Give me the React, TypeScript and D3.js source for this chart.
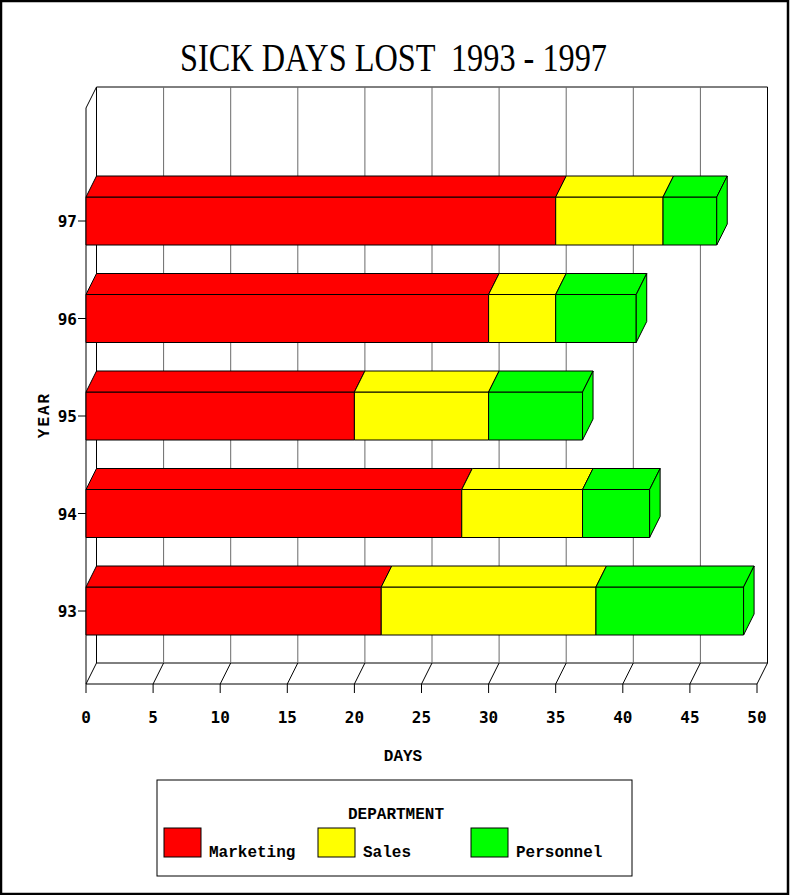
import React from "react";
import * as d3 from "d3";

const years = ["93", "94", "95", "96", "97"];
const marketing = [22, 28, 20, 30, 35];
const sales = [16, 9, 10, 5, 8];
const personnel = [11, 5, 7, 6, 4];
const departments = ["Marketing", "Sales", "Personnel"];
const colors = ["#ff0000", "#ffff00", "#00ff00"];
const xTicks = [0, 5, 10, 15, 20, 25, 30, 35, 40, 45, 50];

const W = 790;
const H = 895;
const DX = 10.5;
const DY = -21;
const BAR_H = 48;

export default function App() {
  const x = d3.scaleLinear().domain([0, 50]).range([86, 757]);
  const y = d3.scalePoint<string>().domain(years).range([611, 221]);
  const rows = years.map((yr, i) => ({
    year: yr,
    Marketing: marketing[i],
    Sales: sales[i],
    Personnel: personnel[i],
  }));
  const stacked = d3.stack<any>().keys(departments)(rows);
  const frontTop = 108;
  const frontBottom = 684;
  const x0 = x(0);
  const x1 = x(50);
  const mono = "'Liberation Mono', 'Courier New', monospace";
  const sansMono = "'DejaVu Sans Mono', monospace";

  return (
    <svg
      width={W}
      height={H}
      style={{ position: "absolute", left: 0, top: 0, background: "#fff" }}
    >
      <rect x={1} y={1} width={787} height={893} fill="#fff" stroke="#000" strokeWidth={2.5} />
      <text
        x={393.5}
        y={71}
        textAnchor="middle"
        fontFamily="'Liberation Serif', 'Times New Roman', serif"
        fontSize={40}
        textLength={427}
        lengthAdjust="spacingAndGlyphs"
        style={{ whiteSpace: "pre" }}
      >
        {"SICK DAYS LOST  1993 - 1997"}
      </text>

      {/* back wall */}
      <g stroke="#000" strokeWidth={1} fill="none">
        <line x1={x0 + DX} y1={frontTop + DY} x2={x1 + DX} y2={frontTop + DY} />
        <line x1={x0 + DX} y1={frontTop + DY} x2={x0 + DX} y2={frontBottom + DY} />
        <line x1={x1 + DX} y1={frontTop + DY} x2={x1 + DX} y2={frontBottom + DY} />
        <line x1={x0} y1={frontTop} x2={x0 + DX} y2={frontTop + DY} />
        <line x1={x0} y1={frontTop} x2={x0} y2={frontBottom} />
        <line x1={x0} y1={frontBottom} x2={x1} y2={frontBottom} />
        <line x1={x0 + DX} y1={frontBottom + DY} x2={x1 + DX} y2={frontBottom + DY} />
      </g>
      {/* grid lines */}
      <g stroke="#6a6a6a" strokeWidth={1}>
        {xTicks.slice(1, -1).map((t) => (
          <line key={t} x1={x(t) + DX} y1={frontTop + DY} x2={x(t) + DX} y2={frontBottom + DY} />
        ))}
      </g>
      {/* floor diagonals and ticks */}
      <g stroke="#000" strokeWidth={1}>
        {xTicks.map((t) => (
          <g key={t}>
            <line x1={x(t)} y1={frontBottom} x2={x(t) + DX} y2={frontBottom + DY} />
            <line x1={x(t)} y1={frontBottom} x2={x(t)} y2={frontBottom + 9} />
          </g>
        ))}
      </g>
      {xTicks.map((t) => (
        <text key={t} x={x(t)} y={723} textAnchor="middle" fontFamily={sansMono} fontWeight="bold" fontSize={16}>
          {t}
        </text>
      ))}
      <text x={403} y={761} textAnchor="middle" fontFamily={mono} fontWeight="bold" fontSize={16}>
        DAYS
      </text>

      {/* y ticks */}
      {years.map((yr) => (
        <g key={yr}>
          <line x1={x0 - 8} y1={y(yr)} x2={x0} y2={y(yr)} stroke="#000" />
          <text x={77} y={(y(yr) as number) + 6} textAnchor="end" fontFamily={sansMono} fontWeight="bold" fontSize={16}>
            {yr}
          </text>
        </g>
      ))}
      <text
        transform={`translate(49,415) rotate(-90)`}
        textAnchor="middle"
        fontFamily={mono}
        fontWeight="bold"
        fontSize={16}
        letterSpacing={2}
      >
        YEAR
      </text>

      {/* bars */}
      {years.map((yr, i) => {
        const cy = y(yr) as number;
        const top = cy - BAR_H / 2;
        const bottom = cy + BAR_H / 2;
        return (
          <g key={yr} stroke="#000" strokeWidth={1} strokeLinejoin="round">
            {stacked.map((s, k) => {
              const a = x(s[i][0]);
              const b = x(s[i][1]);
              return (
                <g key={k}>
                  <rect x={a} y={top} width={b - a} height={BAR_H} fill={colors[k]} />
                  <path
                    d={`M${a},${top}L${a + DX},${top + DY}L${b + DX},${top + DY}L${b},${top}Z`}
                    fill={colors[k]}
                  />
                  {k === stacked.length - 1 && (
                    <path
                      d={`M${b},${top}L${b + DX},${top + DY}L${b + DX},${bottom + DY}L${b},${bottom}Z`}
                      fill={colors[k]}
                    />
                  )}
                </g>
              );
            })}
          </g>
        );
      })}

      {/* legend */}
      <rect x={157} y={780} width={475} height={96} fill="none" stroke="#000" strokeWidth={1} />
      <text x={396} y={819} textAnchor="middle" fontFamily={mono} fontWeight="bold" fontSize={16}>
        DEPARTMENT
      </text>
      {departments.map((d, k) => {
        const lx = [164, 318, 471][k];
        return (
          <g key={d}>
            <rect x={lx} y={828} width={37} height={29} fill={colors[k]} stroke="#000" strokeWidth={1} />
            <text x={lx + 45} y={857} fontFamily={mono} fontWeight="bold" fontSize={16}>
              {d}
            </text>
          </g>
        );
      })}
    </svg>
  );
}
